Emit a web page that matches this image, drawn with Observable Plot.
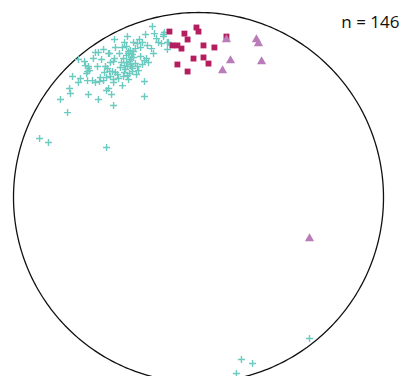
<!DOCTYPE html>
<html>
<head>
<meta charset="utf-8">
<script src="https://cdn.jsdelivr.net/npm/d3@7"></script>
<script src="https://cdn.jsdelivr.net/npm/@observablehq/plot@0.6"></script>
<style>
  html, body { margin: 0; padding: 0; background: #fff; overflow: hidden; }
</style>
</head>
<body>
<script>
// Projected positions on the net (primitive circle radius = 100)
const crossX = [-24.9,-23.8,-28.6,-18.9,-38.4,-45.4,-31.9,-30.3,-33.0,-35.1,-40.0,-21.6,-16.8,-44.9,-41.1,-31.3,-25.4,-16.8,-51.3,-54.1,-48.6,-36.8,-37.8,-35.7,-24.3,-64.9,-61.6,-56.8,-52.4,-45.9,-40.5,-38.9,-36.8,-35.1,-29.2,-28.1,-27.0,-59.5,-59.5,-60.0,-58.9,-50.3,-49.2,-40.0,-38.4,-36.8,-35.7,-33.0,-32.4,-46.5,-48.1,-44.9,-60.5,-40.0,-37.3,-35.7,-68.1,-63.8,-64.9,-60.0,-55.7,-53.5,-51.3,-49.7,-47.6,-45.9,-45.9,-43.2,-40.5,-37.8,-29.2,-41.1,-69.7,-69.2,-49.7,-48.6,-47.0,-59.5,-29.2,-74.6,-54.1,-45.9,-70.8,-85.9,-81.1,-49.7,-18.4,-18.9,-16.2,-20.0,60.0,23.2,29.2,20.5,-38.9,-36.2,-37.3,-37.8,-48.1,-45.4,-55.7,-39.5,-36.2,-34.1,-42.2,-43.8,-53.0,-57.3,-31.3,-27.6,-22.7,-42.7,-34.1,-38.9,-47.6,-50.8,-61.1,-33.5,-30.3,-54.6,-38.4,-35.1,-41.6];
const crossY = [92.4,88.6,88.1,88.1,87.0,85.4,85.4,83.8,83.2,83.8,83.8,83.8,83.8,81.1,81.1,81.1,80.5,80.0,80.0,78.4,77.8,79.5,77.8,77.3,77.8,74.6,73.5,75.1,74.6,73.5,75.1,73.0,74.6,75.7,74.0,75.1,73.0,70.8,69.7,68.1,68.6,70.8,69.7,71.3,70.8,71.9,69.7,70.8,68.6,68.1,68.1,67.6,67.0,67.6,67.0,68.1,65.4,64.3,62.2,63.2,62.2,62.7,63.2,64.9,65.4,63.8,62.2,64.3,65.4,63.8,62.7,60.5,58.9,56.2,57.8,58.9,55.7,55.7,54.6,53.0,53.0,49.7,45.9,31.9,29.7,27.0,89.2,87.0,83.8,83.2,-76.2,-87.6,-89.7,-95.1,76.8,75.7,73.5,78.9,77.8,75.1,78.4,69.2,70.8,72.4,70.3,66.5,64.9,63.2,76.2,82.2,85.9,77.8,80.5,81.6,73.0,67.6,71.3,66.5,71.9,70.8,65.9,78.9,73.0];

const squareX = [-15.7,-7.6,-1.1,0.0,-5.9,-14.1,-11.4,-9.2,2.7,8.6,-2.7,2.7,5.4,-11.4,-5.9,15.1];
const squareY = [89.7,88.6,91.9,89.7,85.4,82.2,82.2,80.5,82.2,81.1,75.1,75.7,72.4,71.9,68.1,87.0];

const triangleX = [15.1,31.3,32.4,17.3,13.0,34.1,60.0];
const triangleY = [85.4,85.4,83.2,74.0,68.6,73.5,-22.2];

const nLabel = "n = 146";

const zip = (xs, ys) => xs.map((x, i) => ({x, y: ys[i]}));
const crosses = zip(crossX, crossY);
const squares = zip(squareX, squareY);
const triangles = zip(triangleX, triangleY);

// primitive circle of the net (radius 100)
const primitive = d3.range(0, 361).map(a => ({
  x: 100 * Math.cos(a * Math.PI / 180),
  y: 100 * Math.sin(a * Math.PI / 180)
}));

const chart = Plot.plot({
  width: 402,
  height: 376,
  marginTop: 0, marginRight: 0, marginBottom: 0, marginLeft: 0,
  x: {domain: [-107.03, 110.27], axis: null},
  y: {domain: [-96.76, 106.49], axis: null},
  style: {background: "#fff", overflow: "hidden"},
  marks: [
    Plot.line(primitive, {x: "x", y: "y", stroke: "#111", strokeWidth: 1.3, curve: "linear"}),
    Plot.dot(crosses, {x: "x", y: "y", symbol: "plus", r: 2.4, stroke: "#6ccbc0", strokeWidth: 1.4, fill: "none"}),
    Plot.dot(squares, {x: "x", y: "y", symbol: "square", r: 3.3, fill: "#b41d5e", stroke: "none"}),
    Plot.dot(triangles, {x: "x", y: "y", symbol: "triangle", r: 3.4, fill: "#b97cb8", stroke: "none"}),
    Plot.text([nLabel], {text: d => d, frameAnchor: "top-right", textAnchor: "end", lineAnchor: "middle",
      dx: -3, dy: 22.5, fontSize: 17, fontFamily: "Open Sans", fill: "#111"})
  ]
});
document.body.appendChild(chart);
</script>
</body>
</html>
